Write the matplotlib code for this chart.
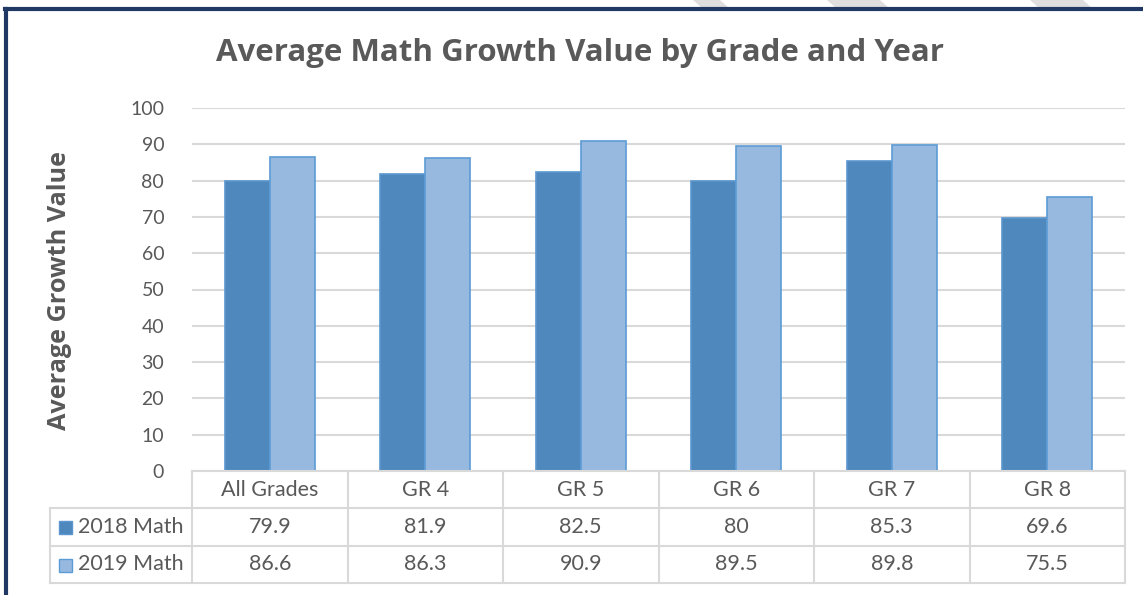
import matplotlib.pyplot as plt
from matplotlib.patches import Rectangle, Polygon
import matplotlib.transforms as mtransforms
import numpy as np

grades = ['All Grades', 'GR 4', 'GR 5', 'GR 6', 'GR 7', 'GR 8']
math_2018 = [79.9, 81.9, 82.5, 80, 85.3, 69.6]
math_2019 = [86.6, 86.3, 90.9, 89.5, 89.8, 75.5]
labels_2018 = ['79.9', '81.9', '82.5', '80', '85.3', '69.6']
labels_2019 = ['86.6', '86.3', '90.9', '89.5', '89.8', '75.5']
series_names = ['2018 Math', '2019 Math']

W, H = 1143, 595
plt.rcParams['font.family'] = ['Lato', 'DejaVu Sans']
txt = '#595959'
grid_c = '#d9d9d9'
c18, e18 = '#4f88bc', '#5a96cf'
c19, e19 = '#97b9e0', '#5b9bd5'

fig = plt.figure(figsize=(W / 100, H / 100), dpi=100)

def fx(px):
    return px / W

def fy(py):
    return 1 - py / H

# decorative background stripes and navy border
for x0, x1 in [(693, 720), (827, 880), (1030, 1083)]:
    fig.patches.append(Polygon([(fx(x0), fy(0)), (fx(x1), fy(0)),
                                (fx(x1 + 10), fy(9)), (fx(x0 + 10), fy(9))],
                               closed=True, transform=fig.transFigure,
                               facecolor='#dedede', edgecolor='none'))
fig.add_artist(plt.Line2D([fx(6), fx(6)], [fy(9), 0], color='#1f3864', lw=3,
                          transform=fig.transFigure))
fig.add_artist(plt.Line2D([fx(5), 1], [fy(9), fy(9)], color='#1f3864', lw=3,
                          transform=fig.transFigure))

left, right, top, bottom = 192, 1125, 108, 471
ax = fig.add_axes([fx(left), fy(bottom), fx(right) - fx(left), (bottom - top) / H])

x = np.arange(len(grades))
bw = 0.29
ax.bar(x - bw / 2, math_2018, bw, color=c18, edgecolor=e18, linewidth=1.2, zorder=3)
ax.bar(x + bw / 2, math_2019, bw, color=c19, edgecolor=e19, linewidth=1.2, zorder=3)

ax.set_xlim(-0.5, len(grades) - 0.5)
ax.set_ylim(0, 100)
ax.set_yticks(range(0, 101, 10))
ax.set_xticks([])
ax.tick_params(axis='y', length=0, labelsize=14, labelcolor=txt, pad=20)
ax.grid(axis='y', color=grid_c, lw=1.5, zorder=0)
for s in ax.spines.values():
    s.set_visible(False)

fig.text(fx(580), fy(53), 'Average Math Growth Value by Grade and Year',
         ha='center', va='center', fontsize=22.5, fontweight='bold', color=txt,
         family=['Open Sans', 'DejaVu Sans'])
fig.text(fx(60), fy(290), 'Average Growth Value', rotation=90, ha='center',
         va='center', fontsize=18.2, fontweight='bold', color=txt,
         family=['Open Sans', 'DejaVu Sans'])

# data table below the axis
tr = mtransforms.blended_transform_factory(ax.transData, fig.transFigure)
row_y = [471, 508, 546, 583]
lab_x = 50
lw = 1.5
fig.add_artist(plt.Line2D([fx(left), fx(right)], [fy(row_y[0])] * 2, color=grid_c, lw=lw))
for yy in row_y[1:]:
    fig.add_artist(plt.Line2D([fx(lab_x), fx(right)], [fy(yy)] * 2, color=grid_c, lw=lw))
fig.add_artist(plt.Line2D([fx(lab_x)] * 2, [fy(row_y[1]), fy(row_y[3])], color=grid_c, lw=lw))
for i in range(len(grades) + 1):
    ax.add_artist(plt.Line2D([i - 0.5] * 2, [fy(row_y[0]), fy(row_y[3])], color=grid_c,
                             lw=lw, transform=tr, clip_on=False))

yc = [(row_y[k] + row_y[k + 1]) / 2 for k in range(3)]
for i, g in enumerate(grades):
    ax.text(i, fy(yc[0]), g, transform=tr, ha='center', va='center', fontsize=15.5, color=txt)
    ax.text(i, fy(yc[1]), labels_2018[i], transform=tr, ha='center', va='center',
            fontsize=15.5, color=txt)
    ax.text(i, fy(yc[2]), labels_2019[i], transform=tr, ha='center', va='center',
            fontsize=15.5, color=txt)

for k, (name, fc, ec) in enumerate(zip(series_names, [c18, c19], [e18, e19])):
    yk = yc[k + 1]
    fig.patches.append(Rectangle((fx(59), fy(yk + 7)), 13 / W, 13 / H, facecolor=fc,
                                 edgecolor=ec, lw=1, transform=fig.transFigure))
    fig.text(fx(78), fy(yk), name, ha='left', va='center', fontsize=15.5, color=txt)

plt.savefig('out.png', dpi=100)
